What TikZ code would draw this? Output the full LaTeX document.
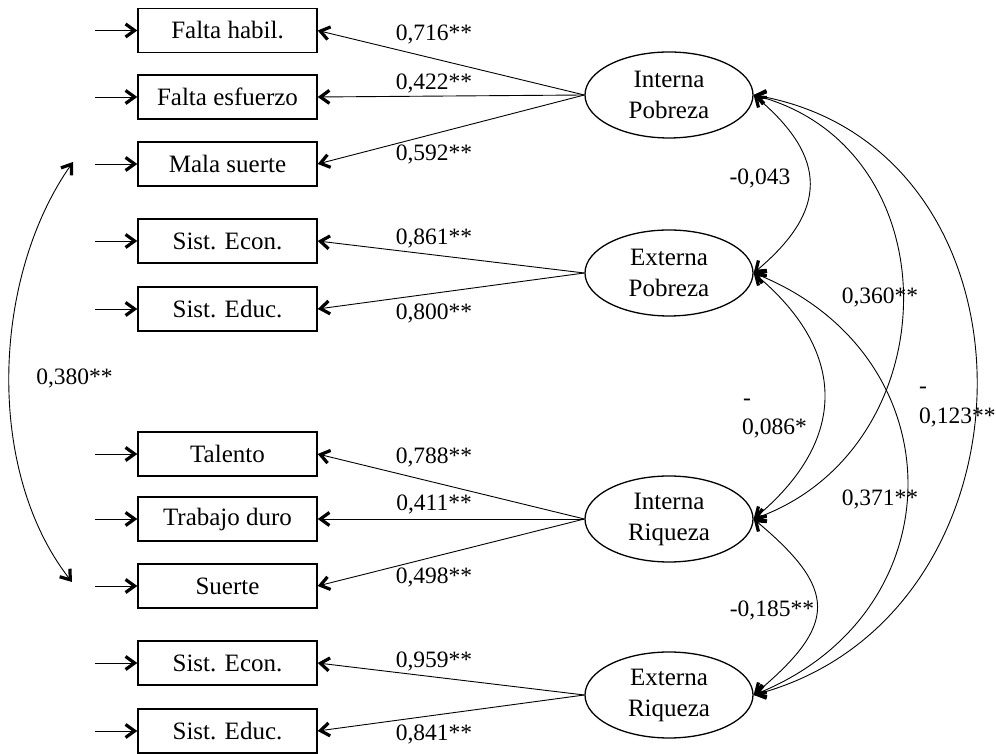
\documentclass[tikz,border=0pt]{standalone}
\usepackage{fontspec}
\setmainfont{Liberation Serif}
\usetikzlibrary{arrows.meta,shapes.geometric}
\begin{document}
\begin{tikzpicture}[x=1pt,y=1pt,
  >={Straight Barb[length=9pt,width=13pt,line width=3.2pt 0 0]},
  obs/.style={draw,line width=1.4pt,minimum width=179pt,minimum height=44pt,inner sep=0pt,font=\fontsize{25}{31}\selectfont},
  lat/.style={draw,ellipse,line width=1.3pt,minimum width=168pt,minimum height=86pt,inner sep=0pt,align=center,font=\fontsize{25}{31}\selectfont},
  lbl/.style={inner sep=0pt,font=\fontsize{23.5}{29}\selectfont},
  con/.style={line width=0.9pt},
]
\useasboundingbox (0,0) rectangle (996,754);
% observed variables
\node[obs] (b1) at (227.5,723.5) {Falta habil.};
\node[obs] (b2) at (227.5,657) {Falta esfuerzo};
\node[obs] (b3) at (227.5,590) {Mala suerte};
\node[obs] (b4) at (227.5,513) {Sist. Econ.};
\node[obs] (b5) at (227.5,445) {Sist. Educ.};
\node[obs] (b6) at (227.5,300) {Talento};
\node[obs] (b7) at (227.5,235) {Trabajo duro};
\node[obs] (b8) at (227.5,168) {Suerte};
\node[obs] (b9) at (227.5,91) {Sist. Econ.};
\node[obs] (b10) at (227.5,23) {Sist. Educ.};
% latent variables
\node[lat] (IP) at (669,659) {Interna\\Pobreza};
\node[lat] (EP) at (669,481) {Externa\\Pobreza};
\node[lat] (IR) at (669,235) {Interna\\Riqueza};
\node[lat] (ER) at (669,59) {Externa\\Riqueza};
% error arrows
\foreach \i/\y in {1/723.5,2/657,3/590,4/513,5/445,6/300,7/235,8/168,9/91,10/23}{
  \coordinate (e\i) at (95,\y);
  \draw[con,->] (e\i) -- (b\i.west);
}
% loadings
\draw[con,->] (IP.west) -- (b1.east);
\draw[con,->] (IP.west) -- (b2.east);
\draw[con,->] (IP.west) -- (b3.east);
\draw[con,->] (EP.west) -- (b4.east);
\draw[con,->] (EP.west) -- (b5.east);
\draw[con,->] (IR.west) -- (b6.east);
\draw[con,->] (IR.west) -- (b7.east);
\draw[con,->] (IR.west) -- (b8.east);
\draw[con,->] (ER.west) -- (b9.east);
\draw[con,->] (ER.west) -- (b10.east);
\node[lbl,anchor=base] (l1) at (434,713) {0,716**};
\node[lbl,anchor=base] (l2) at (434,664) {0,422**};
\node[lbl,anchor=base] (l3) at (434,593.3) {0,592**};
\node[lbl,anchor=base] (l4) at (434,509) {0,861**};
\node[lbl,anchor=base] (l5) at (434,434) {0,800**};
\node[lbl,anchor=base] (l6) at (434,290) {0,788**};
\node[lbl,anchor=base] (l7) at (434,243) {0,411**};
\node[lbl,anchor=base] (l8) at (434,170) {0,498**};
\node[lbl,anchor=base] (l9) at (434,86) {0,959**};
\node[lbl,anchor=base] (l10) at (434,13) {0,841**};
% covariances
\draw[con,<->] (IP.east) to[out=-40,in=40,looseness=1.4] (EP.east);
\draw[con,<->] (IP.east) to[out=-15,in=20,looseness=1.26] (IR.east);
\draw[con,<->] (IP.east) to[out=-10,in=15,looseness=1.3] (ER.east);
\draw[con,<->] (EP.east) to[out=-40,in=40,looseness=1.28] (IR.east);
\draw[con,<->] (EP.east) to[out=-22,in=22,looseness=1.34] (ER.east);
\draw[con,<->] (IR.east) to[out=-40,in=40,looseness=1.6] (ER.east);
\node[lbl,anchor=base] (r1) at (760,569) {-0,043};
\node[lbl,anchor=base] (r2) at (880,450) {0,360**};
\node[lbl,anchor=base west] (r3a) at (743,348) {-};
\node[lbl,anchor=base west] (r3b) at (742,319) {0,086*};
\node[lbl,anchor=base west] (r4a) at (919,360) {-};
\node[lbl,anchor=base west] (r4b) at (919,330) {0,123**};
\node[lbl,anchor=base] (r5) at (880,248) {0,371**};
\node[lbl,anchor=base] (r6) at (772,137) {-0,185**};
% left covariance
\coordinate (c1) at (73,592);
\coordinate (c2) at (72,172);
\draw[con,<->] (c1) to[out=235,in=128,looseness=0.86] (c2);
\node[lbl,anchor=base] (r7) at (74.5,369) {0,380**};
\end{tikzpicture}
\end{document}
